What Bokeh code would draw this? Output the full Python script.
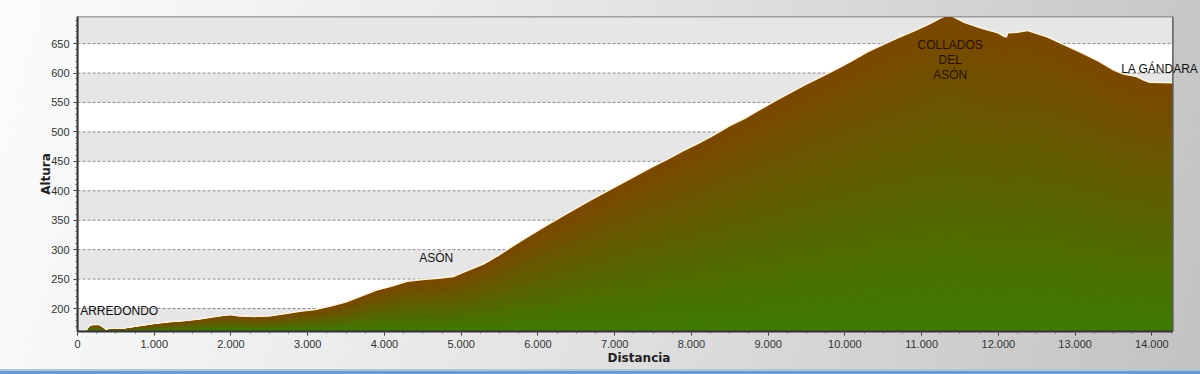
from bokeh.plotting import figure
from bokeh.models import Range1d, FixedTicker, CustomJSTickFormatter, Label
from bokeh.embed import file_html
from bokeh.resources import INLINE

# ---- data (distance in m, altitude in m) ----
dist = [0, 120, 130, 160, 200, 280, 320, 370, 400, 600, 800, 1000, 1200, 1400, 1600,
        1800, 1900, 2000, 2100, 2300, 2500, 2700, 2900, 3100, 3300, 3500, 3700, 3900,
        4100, 4300, 4500, 4700, 4900, 5100, 5300, 5500, 5700, 5900, 6100, 6300, 6500,
        6700, 6900, 7100, 7300, 7500, 7700, 7900, 8100, 8300, 8500, 8700, 8900, 9100,
        9300, 9500, 9700, 9900, 10100, 10300, 10500, 10700, 10900, 11100, 11250, 11300,
        11400, 11550, 11770, 11990, 12070, 12110, 12130, 12250, 12380, 12450, 12640,
        12850, 13070, 13290, 13500, 13630, 13800, 13890, 13970, 14274]
alt = [161, 161, 163, 169, 171, 171, 168, 162, 164, 165, 169, 173, 176, 178, 181,
       185, 187, 188, 186, 185, 186, 190, 194, 197, 203, 210, 220, 230,
       237, 245, 248, 250, 253, 264, 275, 290, 307, 323, 339, 354, 369,
       384, 398, 412, 426, 440, 453, 467, 480, 494, 509, 522, 537, 552,
       566, 580, 593, 606, 620, 635, 647, 659, 670, 682, 692, 695,
       695, 685, 675, 667, 661, 660, 667, 668, 671, 668, 660,
       647, 634, 620, 604, 597, 593, 587, 583, 582]

y_ticks = [200, 250, 300, 350, 400, 450, 500, 550, 600, 650]
x_ticks = list(range(0, 15000, 1000))

label_text = ["ARREDONDO", "ASÓN", "COLLADOS\nDEL\nASÓN", "LA GÁNDARA"]
label_x = [35, 4674, 11372, 13600]
label_y = [195, 285, 622, 607]
label_align = ["left", "center", "center", "left"]
label_color = ["#111111", "#111111", "#2a1000", "#111111"]

x_min, x_end = 0, 14274          # extent of the chart box
y_min, y_max = 161, 696
x_view = 14634                   # frame runs to the page edge so the last label can overflow

p = figure(width=1200, height=374, output_backend="svg", toolbar_location=None,
           x_range=Range1d(x_min, x_view), y_range=Range1d(y_min, y_max),
           min_border_left=77, min_border_right=0, min_border_top=16, min_border_bottom=43)

p.border_fill_alpha = 0
p.background_fill_alpha = 0
p.styles = {"background": "linear-gradient(to top, #6b9bcf 0px, #6b9bcf 3px, #a9c6e2 3px, "
                          "#a9c6e2 5px, transparent 5px), "
                          "linear-gradient(105deg, #fbfcfd 0%, #e6e6e6 45%, #c2c2c2 100%)"}
p.outline_line_color = None
p.xgrid.visible = False
p.ygrid.visible = False

# chart box: white base, alternating gray bands
edges = [y_min] + y_ticks + [y_max]
gray_y0 = [edges[i] for i in range(0, len(edges) - 1, 2)]
gray_y1 = [edges[i + 1] for i in range(0, len(edges) - 1, 2)]
p.quad(left=x_min, right=x_end, bottom=y_min, top=y_max, fill_color="white", line_color=None)
p.quad(left=x_min, right=x_end, bottom=gray_y0, top=gray_y1, fill_color="#e6e6e6", line_color=None)

# dashed gridlines
p.segment(x0=x_min, x1=x_end, y0=y_ticks, y1=y_ticks,
          line_color="#8c8c8c", line_dash="3 2", line_width=1)

# light halo along the profile
p.line(dist, alt, line_color="#fff3dc", line_width=3)

# per-column vertical gradient: brown at the top, green at the bottom
K = 48
top_rgb = (123, 72, 0)
bot_rgb = (62, 123, 0)
for k in range(K, 0, -1):
    f = k / K
    t = (k - 1) / (K - 1)
    r = int(bot_rgb[0] + (top_rgb[0] - bot_rgb[0]) * t)
    g = int(bot_rgb[1] + (top_rgb[1] - bot_rgb[1]) * t)
    b = int(bot_rgb[2] + (top_rgb[2] - bot_rgb[2]) * t)
    col = "#%02x%02x%02x" % (r, g, b)
    p.varea(x=dist, y1=[y_min] * len(dist),
            y2=[y_min + (a - y_min) * f for a in alt], fill_color=col)

# box border (top / right)
p.quad(left=x_min, right=x_end, bottom=y_min, top=y_max, fill_alpha=0,
       line_color="#5a5a5a", line_width=1.5)

# axes
for ax in (p.xaxis[0], p.yaxis[0]):
    ax.axis_line_color = "#333333"
    ax.axis_line_width = 2
    ax.major_tick_line_color = "#333333"
    ax.minor_tick_line_color = "#555555"
    ax.major_tick_in = 0
    ax.minor_tick_in = 0
    ax.major_tick_out = 4
    ax.minor_tick_out = 2
    ax.major_label_text_font = "Liberation Sans"
    ax.major_label_text_font_size = "11px"
    ax.major_label_text_color = "#333333"
    ax.axis_label_text_font = "DejaVu Sans"
    ax.axis_label_text_font_style = "bold"
    ax.axis_label_text_font_size = "12px"
    ax.axis_label_text_color = "#222222"
    ax.major_label_standoff = 4

p.xaxis.bounds = (x_min, x_end)
p.xaxis.ticker = FixedTicker(ticks=x_ticks, minor_ticks=list(range(0, 14274, 250)))
p.yaxis.ticker = FixedTicker(ticks=y_ticks, minor_ticks=list(range(170, 700, 10)))
p.xaxis.formatter = CustomJSTickFormatter(
    code=r"return Math.round(tick).toString().replace(/\B(?=(\d{3})+(?!\d))/g, '.');")
p.xaxis.axis_label = "Distancia"
p.yaxis.axis_label = "Altura"
p.xaxis.axis_label_standoff = 0
p.yaxis.axis_label_standoff = -5

for txt, lx, ly, al, c in zip(label_text, label_x, label_y, label_align, label_color):
    p.add_layout(Label(x=lx, y=ly, text=txt, text_align=al, text_baseline="middle",
                       text_font="Liberation Sans", text_font_size="12px",
                       text_color=c, text_line_height=1.05))

open("out.html", "w").write(file_html(p, INLINE))
